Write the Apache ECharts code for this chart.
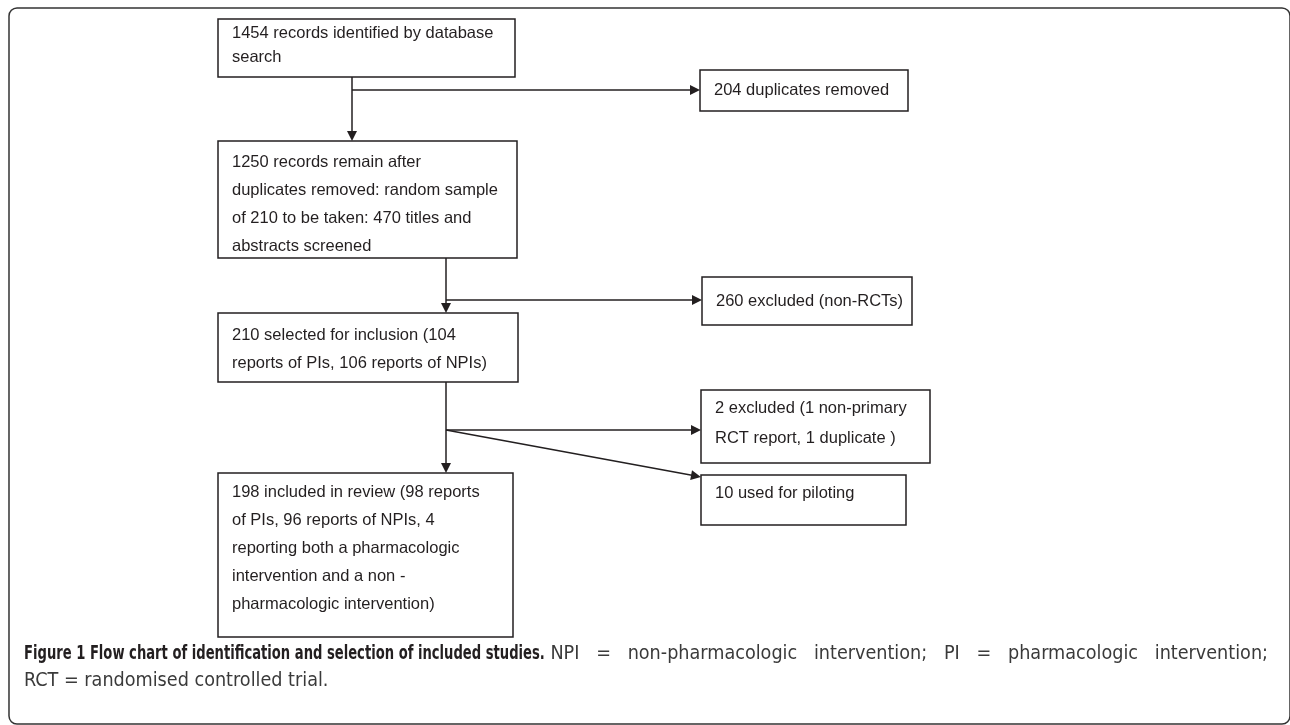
<!DOCTYPE html>
<html><head><meta charset="utf-8">
<script src="https://cdn.jsdelivr.net/npm/echarts@6/dist/echarts.min.js"></script>
<style>html,body{margin:0;padding:0;background:#fff}#c{width:1290px;height:725px}</style>
</head><body><div id="c"></div>
<script>
// ---- content ----
const boxTexts = [
  ["1454 records identified by database", "search"],
  ["204 duplicates removed"],
  ["1250 records remain after", "duplicates removed: random sample", "of 210 to be taken: 470 titles and", "abstracts screened"],
  ["260 excluded (non-RCTs)"],
  ["210 selected for inclusion (104", "reports of PIs, 106 reports of NPIs)"],
  ["2 excluded (1 non-primary", "RCT report, 1 duplicate )"],
  ["10 used for piloting"],
  ["198 included in review (98 reports", "of PIs, 96 reports of NPIs, 4", "reporting both a pharmacologic", "intervention and a non -", "pharmacologic intervention)"]
];
const captionBold = "Figure 1 Flow chart of identification and selection of included studies.";
const captionLine1 = "NPI = non-pharmacologic intervention; PI = pharmacologic intervention;";
const captionLine2 = "RCT = randomised controlled trial.";

// ---- layout (positions in page pixels) ----
// [x, y, width, height, first-line centre offset, line height]
const boxLayout = [
  [218, 19, 297, 58, 14, 24],
  [700, 70, 208, 41, 20, 28],
  [218, 141, 299, 117, 21, 28],
  [702, 277, 210, 48, 24, 28],
  [218, 313, 300, 69, 22, 28],
  [701, 390, 229, 73, 18, 30],
  [701, 475, 205, 50, 18, 28],
  [218, 473, 295, 164, 19, 28]
];
const arrowSegs = [
  [[352, 77], [352, 136]],
  [[352, 90], [695, 90]],
  [[446, 258], [446, 308]],
  [[446, 300], [697, 300]],
  [[446, 382], [446, 468]],
  [[446, 430], [696, 430]],
  [[446, 430], [696, 476]]
];

const INK = '#231f20';
const CAP_FONT = '"DejaVu Sans Condensed", "DejaVu Sans", sans-serif';
const BOLD_SIZE = 20, REG_SIZE = 20;
const BOLD_SCALE = 0.73, REG_SCALE = 0.98;
const CAP_LEFT = 24, CAP_RIGHT = 1268, CAP_Y1 = 653.5, CAP_Y2 = 680.5;

// measure helper for the justified caption line
const mctx = document.createElement('canvas').getContext('2d');
function measure(text, weight, size) {
  mctx.font = weight + ' ' + size + 'px ' + CAP_FONT;
  return mctx.measureText(text).width;
}
function capText(text, x, y, weight, size, scale, color) {
  return {
    type: 'text', x: x, y: y, scaleX: scale, silent: true,
    style: {text: text, x: 0, y: 0, verticalAlign: 'middle', align: 'left',
      fontFamily: CAP_FONT, fontWeight: weight, fontSize: size, fill: color}
  };
}
const captionEls = [];
captionEls.push(capText(captionBold, CAP_LEFT, CAP_Y1, 'bold', BOLD_SIZE, BOLD_SCALE, INK));
const boldEnd = CAP_LEFT + measure(captionBold, 'bold', BOLD_SIZE) * BOLD_SCALE;
const words = captionLine1.split(' ');
const wordW = words.map(w => measure(w, 'normal', REG_SIZE) * REG_SCALE);
const spaceBase = measure(' ', 'normal', REG_SIZE) * REG_SCALE;
const startX = boldEnd + spaceBase;
const totalW = wordW.reduce((a, b) => a + b, 0);
const gap = (CAP_RIGHT - startX - totalW) / (words.length - 1);
let cx = startX;
words.forEach((w, i) => {
  captionEls.push(capText(w, cx, CAP_Y1, 'normal', REG_SIZE, REG_SCALE, '#3a3a3a'));
  cx += wordW[i] + gap;
});
captionEls.push(capText(captionLine2, CAP_LEFT, CAP_Y2, 'normal', REG_SIZE, REG_SCALE, '#3a3a3a'));

const chart = echarts.init(document.getElementById('c'), null, {renderer: 'canvas'});
chart.setOption({
  animation: false,
  grid: {left: 0, right: 0, top: 0, bottom: 0},
  xAxis: {type: 'value', min: 0, max: 1290, show: false},
  yAxis: {type: 'value', min: 0, max: 725, inverse: true, show: false},
  graphic: [
    {
      type: 'rect', shape: {x: 9, y: 8, width: 1281, height: 716, r: 8},
      style: {fill: 'none', stroke: '#333', lineWidth: 1.5}, silent: true
    }
  ].concat(captionEls),
  series: [
    {
      type: 'custom',
      coordinateSystem: 'cartesian2d',
      data: boxLayout.map((b, i) => [b[0], b[1], b[2], b[3], i, b[4], b[5]]),
      renderItem: function (params, api) {
        const x = api.value(0), y = api.value(1), w = api.value(2), h = api.value(3), i = api.value(4);
        const off = api.value(5), lh = api.value(6);
        const p0 = api.coord([x, y]), p1 = api.coord([x + w, y + h]);
        const lines = boxTexts[i];
        return {
          type: 'group',
          children: [
            {type: 'rect', shape: {x: p0[0], y: p0[1], width: p1[0] - p0[0], height: p1[1] - p0[1]},
             style: {fill: '#fff', stroke: INK, lineWidth: 1.5}},
            {type: 'text', style: {
              text: lines.join('\n'), x: p0[0] + 14, y: p0[1] + off - lh / 2,
              verticalAlign: 'top', align: 'left',
              fontFamily: 'Liberation Sans, Arial, sans-serif', fontSize: 16.5, lineHeight: lh, fill: INK
            }}
          ]
        };
      },
      z: 2
    },
    {
      type: 'lines',
      coordinateSystem: 'cartesian2d',
      polyline: false,
      symbol: ['none', 'triangle'],
      symbolSize: 10,
      lineStyle: {color: INK, width: 1.5, opacity: 1, curveness: 0},
      itemStyle: {color: INK},
      data: arrowSegs.map(s => ({coords: s})),
      z: 3
    }
  ]
});
</script></body></html>
